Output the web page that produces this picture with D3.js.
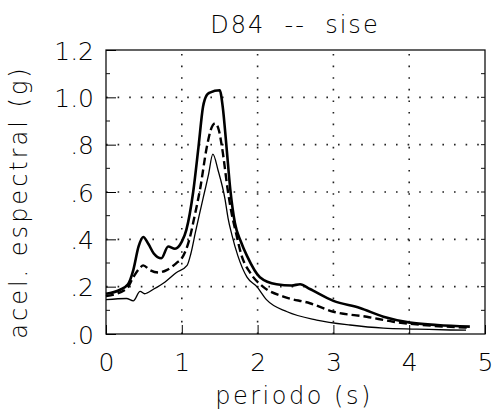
<!DOCTYPE html>
<html>
<head>
<meta charset="utf-8">
<script src="https://cdn.jsdelivr.net/npm/d3@7"></script>
<style>
  body { margin: 0; background: #fff; }
  svg text { font-family: "DejaVu Sans", sans-serif; font-weight: 200; fill: #000; }
</style>
</head>
<body>
<svg id="chart" width="496" height="420"></svg>
<script>
// periods (s) and spectral acceleration (g)
const upperT = [0.0, 0.18, 0.29, 0.36, 0.43, 0.49, 0.56, 0.63, 0.73, 0.82, 0.91, 1.0, 1.06, 1.15, 1.22, 1.28, 1.33, 1.37, 1.50, 1.54, 1.59, 1.64, 1.70, 1.78, 1.86, 2.03, 2.25, 2.45, 2.56, 2.69, 3.0, 3.35, 3.66, 4.01, 4.37, 4.80];
const upperA = [0.17, 0.186, 0.21, 0.27, 0.37, 0.41, 0.38, 0.34, 0.32, 0.37, 0.36, 0.39, 0.44, 0.60, 0.79, 0.96, 1.01, 1.02, 1.03, 0.96, 0.79, 0.61, 0.47, 0.39, 0.33, 0.24, 0.21, 0.205, 0.21, 0.19, 0.14, 0.11, 0.073, 0.048, 0.038, 0.031];

const meanT = [0.0, 0.27, 0.36, 0.45, 0.49, 0.58, 0.69, 0.8, 0.93, 1.0, 1.1, 1.17, 1.24, 1.33, 1.38, 1.44, 1.49, 1.53, 1.61, 1.64, 1.72, 1.79, 1.90, 2.07, 2.34, 2.69, 3.0, 3.44, 3.79, 4.18, 4.76];
const meanA = [0.16, 0.19, 0.24, 0.28, 0.29, 0.27, 0.26, 0.27, 0.30, 0.32, 0.40, 0.50, 0.61, 0.79, 0.86, 0.89, 0.86, 0.79, 0.60, 0.54, 0.42, 0.33, 0.26, 0.20, 0.158, 0.13, 0.094, 0.073, 0.052, 0.038, 0.027];

const lowerT = [0.0, 0.27, 0.36, 0.45, 0.51, 0.63, 0.78, 0.93, 1.07, 1.12, 1.18, 1.25, 1.30, 1.35, 1.41, 1.48, 1.57, 1.61, 1.66, 1.74, 1.86, 1.99, 2.12, 2.39, 2.78, 3.22, 3.66, 4.1, 4.54, 4.75];
const lowerA = [0.145, 0.15, 0.14, 0.18, 0.17, 0.19, 0.22, 0.26, 0.29, 0.34, 0.43, 0.53, 0.60, 0.67, 0.76, 0.69, 0.57, 0.49, 0.42, 0.33, 0.24, 0.20, 0.144, 0.094, 0.059, 0.038, 0.025, 0.021, 0.017, 0.016];

const xTicks = [0, 1, 2, 3, 4, 5];
const yTicks = [0, 0.2, 0.4, 0.6, 0.8, 1.0, 1.2];
const yTickLabels = ['.0', '.2', '.4', '.6', '.8', '1.0', '1.2'];

const svg = d3.select('#chart');
const plot = { left: 106, right: 485, top: 50, bottom: 334 };

const x = d3.scaleLinear().domain([0, 5]).range([plot.left, plot.right]);
const y = d3.scaleLinear().domain([0, 1.2]).range([plot.bottom, plot.top]);

// dotted grid
const grid = svg.append('g').attr('stroke', '#222').attr('stroke-width', 1.6)
  .attr('stroke-dasharray', '1.6,10');
grid.selectAll('.gx').data(xTicks.slice(1, -1)).enter().append('line')
  .attr('x1', (d) => x(d)).attr('x2', (d) => x(d)).attr('y1', plot.bottom).attr('y2', plot.top);
grid.selectAll('.gy').data(yTicks.slice(1, -1)).enter().append('line')
  .attr('x1', plot.left).attr('x2', plot.right).attr('y1', (d) => y(d)).attr('y2', (d) => y(d));

// frame
svg.append('rect').attr('x', plot.left).attr('y', plot.top)
  .attr('width', plot.right - plot.left).attr('height', plot.bottom - plot.top)
  .attr('fill', 'none').attr('stroke', '#111').attr('stroke-width', 1.3);

// axes: ticks point inward
const xAxis = d3.axisBottom(x).tickValues(xTicks).tickSize(-9).tickPadding(16).tickFormat(d3.format('d'));
const gx = svg.append('g').attr('transform', `translate(0,${plot.bottom})`).call(xAxis);
gx.select('.domain').remove();
gx.selectAll('text').attr('font-size', 25).attr('dy', '0.85em')
  .style('font-family', '"DejaVu Sans", sans-serif').style('font-weight', 200);

const yAxis = d3.axisLeft(y).tickValues(yTicks).tickSize(-10).tickPadding(12)
  .tickFormat((d, i) => yTickLabels[i]);
const gy = svg.append('g').attr('transform', `translate(${plot.left},0)`).call(yAxis);
gy.select('.domain').remove();
gy.selectAll('text').attr('font-size', 25).attr('dy', '0.36em')
  .style('font-family', '"DejaVu Sans", sans-serif').style('font-weight', 200);

// small minor ticks on left and right sides
svg.append('g').selectAll('line').data(d3.range(0.1, 1.2, 0.2)).enter().append('line')
  .attr('x1', plot.left).attr('x2', plot.left + 4).attr('y1', (d) => y(d)).attr('y2', (d) => y(d))
  .attr('stroke', '#111');
svg.append('g').selectAll('line').data(d3.range(0.1, 1.2, 0.1)).enter().append('line')
  .attr('x1', plot.right).attr('x2', plot.right - 4).attr('y1', (d) => y(d)).attr('y2', (d) => y(d))
  .attr('stroke', '#111');

// curves
const line = d3.line().x((d) => x(d[0])).y((d) => y(d[1])).curve(d3.curveMonotoneX);

svg.append('path').datum(d3.zip(upperT, upperA)).attr('d', line)
  .attr('fill', 'none').attr('stroke', '#000').attr('stroke-width', 2.6);
svg.append('path').datum(d3.zip(meanT, meanA)).attr('d', line)
  .attr('fill', 'none').attr('stroke', '#000').attr('stroke-width', 2.4)
  .attr('stroke-dasharray', '8,4');
svg.append('path').datum(d3.zip(lowerT, lowerA)).attr('d', line)
  .attr('fill', 'none').attr('stroke', '#000').attr('stroke-width', 1.3);

// labels
svg.append('text').attr('x', 295).attr('y', 33).attr('text-anchor', 'middle')
  .attr('font-size', 24).attr('letter-spacing', 2).style('white-space', 'pre')
  .text('D84  --  sise');

svg.append('text').attr('x', 294).attr('y', 404).attr('text-anchor', 'middle')
  .attr('font-size', 24).attr('letter-spacing', 2.5)
  .text('periodo (s)');

svg.append('text').attr('transform', 'translate(27,202) rotate(-90)')
  .attr('text-anchor', 'middle').attr('font-size', 24).attr('letter-spacing', 3)
  .text('acel. espectral (g)');
</script>
</body>
</html>
